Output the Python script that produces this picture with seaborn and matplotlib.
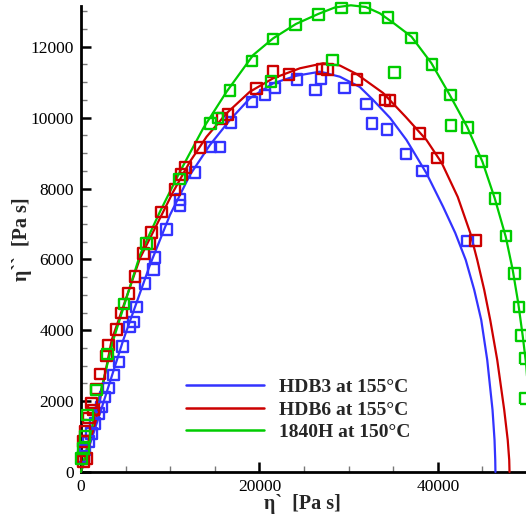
import numpy as np
import pandas as pd
import matplotlib
matplotlib.use("Agg")
import matplotlib.pyplot as plt
import seaborn as sns
from matplotlib.ticker import MultipleLocator

# ---------------- data ----------------
series_names = ["HDB3 at 155°C", "HDB6 at 155°C", "1840H at 150°C"]
series_colors = ["#3333FF", "#CC0000", "#00CC00"]

# measured points (eta', eta'')
hdb3_x = [258, 448, 818, 1199, 1569, 2017, 2319, 2689, 3059, 3619, 4258, 4672, 5412, 5860,
          6241, 7171, 8101, 8291, 9602, 11092, 11092, 12773, 14565, 15574, 16806, 19193,
          20615, 21736, 24234, 26273, 26923, 29523, 31987, 32637, 34318, 36447, 38317, 43359]
hdb3_y = [431, 620, 856, 1090, 1372, 1654, 1840, 2121, 2375, 2732, 3107, 3549, 4093, 4234,
          4657, 5316, 5710, 6048, 6837, 7521, 7682, 8451, 9169, 9169, 9860, 10437,
          10634, 10837, 11071, 10781, 11099, 10837, 10386, 9840, 9671, 8978, 8488, 6516]

hdb6_x = [258, 639, 258, 448, 818, 1378, 1199, 1759, 2129, 2879, 3059, 4000, 4560, 5300,
          6050, 6980, 7652, 7921, 9042, 10532, 11282, 11730, 13333, 15798, 16470, 19686,
          21546, 23338, 27058, 27641, 30957, 34060, 34620, 37948, 39998, 44222]
hdb6_y = [290, 386, 854, 1155, 1521, 1747, 1944, 2338, 2761, 3268, 3578, 4020, 4488, 5034,
          5521, 6161, 6443, 6752, 7333, 7978, 8403, 8600, 9164, 9972, 10093, 10823,
          11305, 11220, 11372, 11353, 11071, 10499, 10479, 9558, 8865, 6535]

h1840_x = [78, 258, 448, 751, 1759, 2947, 4840, 7361, 11047, 14532, 15383, 16694, 19159,
           21288, 21534, 24066, 26610, 28178, 29220, 31842, 34396, 35147, 37085, 39359,
           41421, 41488, 43326, 44928, 46419, 47651, 48625, 49107, 49376, 49802, 49858]
h1840_y = [386, 668, 994, 1606, 2310, 3324, 4741, 6443, 8265, 9831, 9986, 10761, 11598,
           11023, 12217, 12620, 12902, 11626, 13091, 13091, 12826, 11276, 12245, 11493,
           10640, 9775, 9727, 8769, 7710, 6656, 5597, 4657, 3859, 3203, 2076]

# fitted curves
hdb3_fit_x = [0, 2353, 4739, 7731, 9972, 12212, 14453, 16694, 18935, 21545, 24167, 26778,
              29018, 31259, 32749, 34654, 36491, 38732, 40592, 41959, 43135, 44088, 44872,
              45544, 46138, 46362, 46441, 46463]
hdb3_fit_y = [0, 1834, 3725, 5842, 7253, 8381, 9228, 9933, 10546, 10969, 11183, 11296,
              11155, 10865, 10498, 9990, 9369, 8429, 7487, 6745, 5983, 5136, 4289,
              3161, 1750, 903, 339, 0]

hdb6_fit_x = [0, 1681, 3440, 4930, 6610, 8100, 10341, 12212, 14083, 16324, 18935, 21545,
              24537, 27147, 29018, 30889, 33870, 36413, 38732, 40446, 42239, 43640, 44424,
              45208, 45880, 46665, 47449, 47841, 48009, 48043]
hdb6_fit_y = [0, 1467, 3725, 4811, 6030, 6781, 7910, 8757, 9462, 10123, 10732, 11110,
              11392, 11533, 11471, 11232, 10695, 10018, 9369, 8720, 7761, 6745, 5983,
              5136, 4289, 3161, 1750, 903, 339, 0]

h1840_fit_x = [0, 1793, 3619, 5042, 6610, 8851, 11092, 13703, 16324, 19305, 21545, 24089,
               26587, 28458, 30251, 31931, 33500, 35180, 37052, 39293, 41343, 43281, 45006,
               46385, 47617, 48401, 49018, 49522, 49914, 50194, 50362, 50418]
h1840_fit_y = [0, 1846, 3725, 4866, 6124, 7346, 8475, 9700, 10732, 11767, 12238, 12642,
               12924, 13108, 13170, 13122, 12944, 12642, 12284, 11534, 10639, 9745, 8756,
               7723, 6640, 5700, 4769, 3838, 3020, 2032, 903, 0]

x_major_ticks = [0, 20000, 40000]
y_major_ticks = [0, 2000, 4000, 6000, 8000, 10000, 12000]

meas = pd.concat([
    pd.DataFrame({"x": hdb3_x, "y": hdb3_y, "series": series_names[0]}),
    pd.DataFrame({"x": hdb6_x, "y": hdb6_y, "series": series_names[1]}),
    pd.DataFrame({"x": h1840_x, "y": h1840_y, "series": series_names[2]}),
])
fits = pd.concat([
    pd.DataFrame({"x": hdb3_fit_x, "y": hdb3_fit_y, "series": series_names[0]}),
    pd.DataFrame({"x": hdb6_fit_x, "y": hdb6_fit_y, "series": series_names[1]}),
    pd.DataFrame({"x": h1840_fit_x, "y": h1840_fit_y, "series": series_names[2]}),
])

# ---------------- plot ----------------
sns.set_style("ticks")
plt.rcParams["font.family"] = ["Liberation Serif", "DejaVu Serif"]

fig = plt.figure(figsize=(5.26, 5.20), dpi=100)
ax = fig.add_axes([81 / 526, 48 / 520, 445 / 526, 466 / 520])

for name, col in zip(series_names, series_colors):
    d = fits[fits.series == name]
    sns.lineplot(data=d, x="x", y="y", sort=False, estimator=None, color=col,
                 linewidth=1.6, ax=ax, label=name, clip_on=False, zorder=3)
for name, col in zip(series_names, series_colors):
    d = meas[meas.series == name]
    sns.scatterplot(data=d, x="x", y="y", marker="s", s=58, facecolors="none",
                    edgecolor=col, linewidth=1.7, ax=ax, legend=False, clip_on=False,
                    zorder=4)

ax.set_xlim(0, 49890)
ax.set_ylim(0, 13150)
ax.set_xticks(x_major_ticks)
ax.set_yticks(y_major_ticks)
ax.xaxis.set_minor_locator(MultipleLocator(5000))
ax.yaxis.set_minor_locator(MultipleLocator(500))

sns.despine(ax=ax)
for sp in ["left", "bottom"]:
    ax.spines[sp].set_linewidth(2.0)
    ax.spines[sp].set_color("black")

ax.tick_params(which="major", direction="in", length=7.5, width=1.8, colors="black",
               labelsize=12.5, pad=5)
ax.tick_params(which="minor", direction="in", length=4.5, width=1.0, color="#777777")

ax.set_xlabel("η`  [Pa s]", fontsize=14.5, fontweight="bold")
ax.set_ylabel("η``  [Pa s]", fontsize=14.5, fontweight="bold")
ax.xaxis.set_label_coords(0.5 - (303.5 - 302) / 445, -0.048)
ax.yaxis.set_label_coords(-0.11, 0.5)

leg = ax.legend(loc="upper left", bbox_to_anchor=(186 / 526, (520 - 378.5) / 520),
                bbox_transform=fig.transFigure, frameon=False, borderpad=0,
                borderaxespad=0, handlelength=4.0, handletextpad=0.8, labelspacing=0.25,
                prop={"family": ["Liberation Serif"], "weight": "bold", "size": 14})
for h in leg.get_lines():
    h.set_linewidth(1.8)

fig.savefig("out.png", dpi=100)
